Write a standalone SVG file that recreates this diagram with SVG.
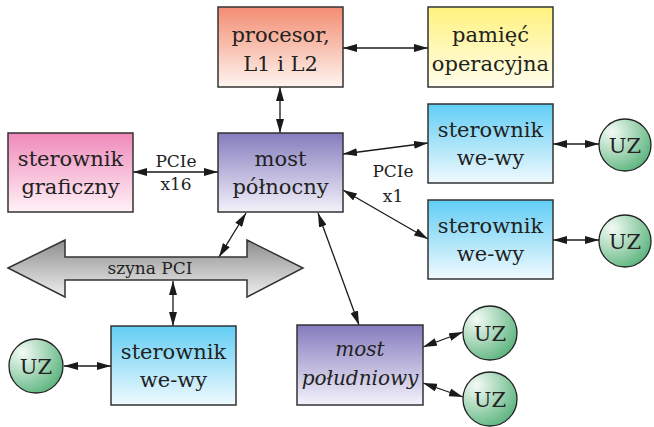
<svg xmlns="http://www.w3.org/2000/svg" width="654" height="427" viewBox="0 0 654 427">
  <defs>
    <linearGradient id="gProc" x1="0" y1="0" x2="0" y2="1">
      <stop offset="0" stop-color="#F38C72"/>
      <stop offset="1" stop-color="#FEF5EF"/>
    </linearGradient>
    <linearGradient id="gMem" x1="0" y1="0" x2="0" y2="1">
      <stop offset="0" stop-color="#FFF27E"/>
      <stop offset="1" stop-color="#FFFDEC"/>
    </linearGradient>
    <linearGradient id="gGraf" x1="0" y1="0" x2="0" y2="1">
      <stop offset="0" stop-color="#EF8ABA"/>
      <stop offset="1" stop-color="#FFF2F7"/>
    </linearGradient>
    <linearGradient id="gBridge" x1="0" y1="0" x2="0" y2="1">
      <stop offset="0" stop-color="#857CBE"/>
      <stop offset="1" stop-color="#F3F2FA"/>
    </linearGradient>
    <linearGradient id="gIo" x1="0" y1="0" x2="0" y2="1">
      <stop offset="0" stop-color="#62CDF4"/>
      <stop offset="1" stop-color="#F0FAFE"/>
    </linearGradient>
    <radialGradient id="gUz" cx="0.25" cy="0.25" r="0.85">
      <stop offset="0" stop-color="#F4FBF6"/>
      <stop offset="1" stop-color="#5CB47E"/>
    </radialGradient>
    <linearGradient id="gBus" x1="0" y1="0" x2="0" y2="1">
      <stop offset="0" stop-color="#8E8E8E"/>
      <stop offset="1" stop-color="#EFEFEF"/>
    </linearGradient>
    <marker id="ah" viewBox="0 0 14 8" refX="14" refY="4" markerWidth="14" markerHeight="8" markerUnits="userSpaceOnUse" orient="auto-start-reverse">
      <path d="M0,0 L14,4 L0,8 z" fill="#1a1a1a"/>
    </marker>
  </defs>
  <style>
    .box { stroke: #333; stroke-width: 1.5; }
    .uz { stroke: #222; stroke-width: 1.3; fill: url(#gUz); }
    .lbl { font-family: "DejaVu Serif", "Liberation Serif", serif; font-size: 21px; fill: #222; text-anchor: middle; }
    .it { font-style: italic; font-size: 20px; }
    .sm { font-family: "DejaVu Serif", "Liberation Serif", serif; font-size: 17px; fill: #222; text-anchor: middle; }
    .link { stroke: #1a1a1a; stroke-width: 1.3; fill: none; marker-start: url(#ah); marker-end: url(#ah); }
  </style>

  <!-- connectors -->
  <g id="connectors">
    <line class="link" x1="343" y1="48" x2="428" y2="48"/>
    <line class="link" x1="280" y1="87" x2="280" y2="133"/>
    <line class="link" x1="133" y1="172" x2="218" y2="172"/>
    <line class="link" x1="343" y1="154" x2="428" y2="143"/>
    <line class="link" x1="343" y1="190" x2="428" y2="239"/>
    <line class="link" x1="553" y1="144" x2="599" y2="144"/>
    <line class="link" x1="553" y1="240" x2="599" y2="240"/>
    <line class="link" x1="246" y1="213" x2="219" y2="257"/>
    <line class="link" x1="318" y1="213" x2="359" y2="325"/>
    <line class="link" x1="173" y1="281" x2="173" y2="326"/>
    <line class="link" x1="64" y1="366" x2="111" y2="366"/>
    <line class="link" x1="423" y1="347" x2="463" y2="332"/>
    <line class="link" x1="423" y1="383" x2="463" y2="397"/>
    <text class="sm" x="176" y="167">PCIe</text>
    <text class="sm" x="176" y="190">x16</text>
    <text class="sm" x="393" y="177">PCIe</text>
    <text class="sm" x="393" y="202">x1</text>
  </g>

  <g id="procesor">
    <rect class="box" x="218" y="7" width="125" height="80" fill="url(#gProc)"/>
    <text class="lbl" x="280.5" y="42">procesor,</text>
    <text class="lbl" x="280.5" y="71">L1 i L2</text>
  </g>

  <g id="pamiec">
    <rect class="box" x="428" y="7" width="125" height="80" fill="url(#gMem)"/>
    <text class="lbl" x="490.5" y="42">pamięć</text>
    <text class="lbl" x="490.5" y="71">operacyjna</text>
  </g>

  <g id="sterownik-graficzny">
    <rect class="box" x="8" y="133" width="125" height="79" fill="url(#gGraf)"/>
    <text class="lbl" x="70.5" y="166">sterownik</text>
    <text class="lbl" x="70.5" y="194">graficzny</text>
  </g>

  <g id="most-polnocny">
    <rect class="box" x="218" y="133" width="125" height="79" fill="url(#gBridge)"/>
    <text class="lbl" x="280.5" y="166">most</text>
    <text class="lbl" x="280.5" y="194">północny</text>
  </g>

  <g id="we-wy-1">
    <rect class="box" x="428" y="104" width="125" height="79" fill="url(#gIo)"/>
    <text class="lbl" x="490.5" y="137">sterownik</text>
    <text class="lbl" x="490.5" y="165">we-wy</text>
  </g>

  <g id="we-wy-2">
    <rect class="box" x="428" y="200" width="125" height="79" fill="url(#gIo)"/>
    <text class="lbl" x="490.5" y="233">sterownik</text>
    <text class="lbl" x="490.5" y="261">we-wy</text>
  </g>

  <g id="uz-1">
    <circle class="uz" cx="625" cy="145" r="26"/>
    <text class="lbl" x="625" y="153">UZ</text>
  </g>

  <g id="uz-2">
    <circle class="uz" cx="625" cy="241" r="26"/>
    <text class="lbl" x="625" y="249">UZ</text>
  </g>

  <g id="szyna-pci">
    <polygon class="box" fill="url(#gBus)" points="8,268 65,240 65,257 247,257 247,240 303,268 247,297 247,280 65,280 65,297"/>
    <text class="sm" x="150" y="274">szyna PCI</text>
  </g>

  <g id="we-wy-3">
    <rect class="box" x="111" y="326" width="125" height="79" fill="url(#gIo)"/>
    <text class="lbl" x="173.5" y="359">sterownik</text>
    <text class="lbl" x="173.5" y="387">we-wy</text>
  </g>

  <g id="uz-3">
    <circle class="uz" cx="36" cy="366" r="27"/>
    <text class="lbl" x="36" y="374">UZ</text>
  </g>

  <g id="most-poludniowy">
    <rect class="box" x="297" y="325" width="126" height="80" fill="url(#gBridge)"/>
    <text class="lbl it" x="360" y="356">most</text>
    <text class="lbl it" x="360" y="385">południowy</text>
  </g>

  <g id="uz-4">
    <circle class="uz" cx="490" cy="333" r="27"/>
    <text class="lbl" x="490" y="341">UZ</text>
  </g>

  <g id="uz-5">
    <circle class="uz" cx="490" cy="399" r="27"/>
    <text class="lbl" x="490" y="407">UZ</text>
  </g>
</svg>
